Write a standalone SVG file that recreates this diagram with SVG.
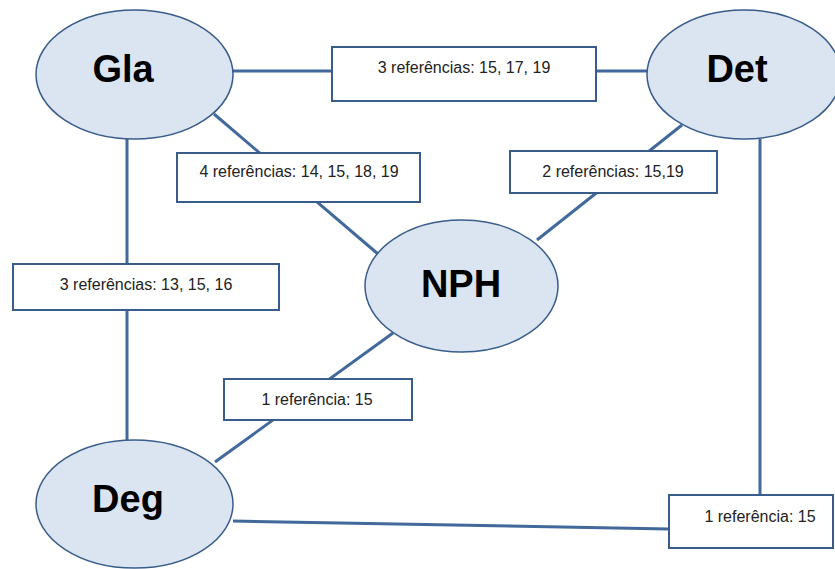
<svg xmlns="http://www.w3.org/2000/svg" width="835" height="569" viewBox="0 0 835 569">
<style>
.node ellipse{fill:#dbe4f1;stroke:#385d8a;stroke-width:1.5}
.node text{font-family:"Liberation Sans",Arial,sans-serif;font-weight:bold;font-size:38px;fill:#000;text-anchor:middle}
.lbl rect{fill:#fff;stroke:#385d8a;stroke-width:2}
.lbl text{font-family:"Liberation Sans",Arial,sans-serif;font-size:16px;fill:#222;text-anchor:middle}
#connectors line{stroke:#41699c;stroke-width:3;fill:none}
</style>
<rect width="835" height="569" fill="#fff"/>
<g id="connectors">
<line x1="233" y1="71" x2="647" y2="71"/>
<line x1="214" y1="114" x2="378" y2="254"/>
<line x1="682" y1="125" x2="537" y2="240"/>
<line x1="127" y1="139" x2="127" y2="440"/>
<line x1="393" y1="333" x2="215" y2="462"/>
<line x1="760" y1="139" x2="760" y2="495"/>
<line x1="233" y1="521" x2="669" y2="529"/>
</g>
<g id="node-gla" class="node">
<ellipse cx="134.5" cy="74.5" rx="98.5" ry="64.5"/>
<text x="123" y="82">Gla</text>
</g>
<g id="node-det" class="node">
<ellipse cx="744" cy="74.5" rx="97" ry="64.5"/>
<text x="737" y="82">Det</text>
</g>
<g id="node-nph" class="node">
<ellipse cx="461.5" cy="286" rx="96.5" ry="66"/>
<text x="461" y="297">NPH</text>
</g>
<g id="node-deg" class="node">
<ellipse cx="134.5" cy="504" rx="98.5" ry="64"/>
<text x="128" y="512">Deg</text>
</g>
<g id="label-gla-det" class="lbl">
<rect x="332" y="47" width="264" height="54"/>
<text x="464" y="73">3 referências: 15, 17, 19</text>
</g>
<g id="label-gla-nph" class="lbl">
<rect x="177" y="153" width="243" height="49"/>
<text x="299" y="177">4 referências: 14, 15, 18, 19</text>
</g>
<g id="label-det-nph" class="lbl">
<rect x="510" y="151" width="207" height="42"/>
<text x="613" y="177">2 referências: 15,19</text>
</g>
<g id="label-gla-deg" class="lbl">
<rect x="13" y="264" width="266" height="46"/>
<text x="146" y="290">3 referências: 13, 15, 16</text>
</g>
<g id="label-nph-deg" class="lbl">
<rect x="224" y="379" width="188" height="41"/>
<text x="317" y="405">1 referência: 15</text>
</g>
<g id="label-det-deg" class="lbl">
<rect x="669" y="495" width="164" height="53"/>
<text x="760" y="522">1 referência: 15</text>
</g>
</svg>
